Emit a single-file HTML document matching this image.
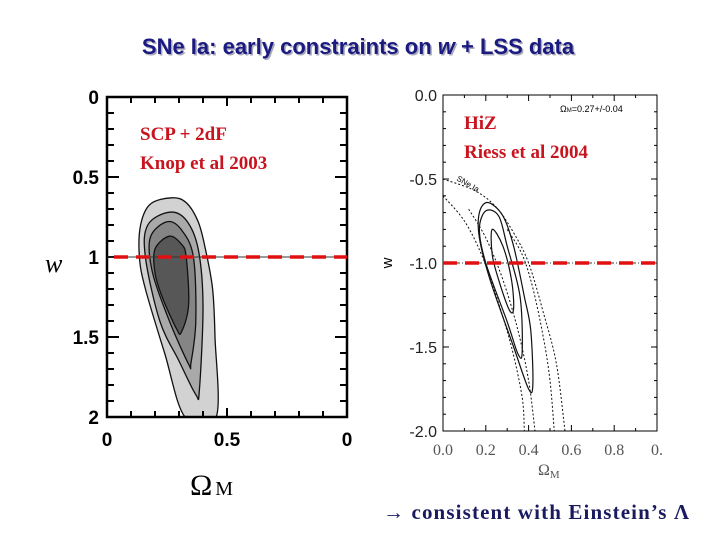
<!DOCTYPE html>
<html><head><meta charset="utf-8"><style>
html,body{margin:0;padding:0;background:#fff;width:720px;height:540px;overflow:hidden}
svg{display:block}
</style></head><body>
<svg id="s" width="720" height="540" xmlns="http://www.w3.org/2000/svg">
<text x="358" y="54" text-anchor="middle" font-family="Liberation Sans, sans-serif" font-size="22" font-weight="bold" fill="#aab" transform="translate(1.5,1.5)">SNe Ia: early constraints on <tspan font-style="italic">w</tspan> + LSS data</text>
<text x="358" y="54" text-anchor="middle" font-family="Liberation Sans, sans-serif" font-size="22" font-weight="bold" fill="#1a1a80">SNe Ia: early constraints on <tspan font-style="italic">w</tspan> + LSS data</text>
<g id="left"></g>
<g id="right"></g>
<text x="383" y="519" font-family="Liberation Serif, serif" font-size="21" font-weight="bold" fill="#1a1a60" textLength="306" lengthAdjust="spacing">→ consistent with Einstein’s Λ</text>
</svg>
<script>
// Left plot data (Omega_M, w as positive down)
const leftXTicks=[0,0.5,1];
const leftXLabels=["0","0.5","0"];
const leftYTicks=[0,0.5,1,1.5,2];
const leftYLabels=["0","0.5","1","1.5","2"];
const leftOuterOm=[0.27,0.33,0.38,0.41,0.44,0.45,0.455,0.325,0.24,0.16,0.135,0.14,0.18];
const leftOuterW=[0.63,0.66,0.78,0.95,1.2,1.5,2.0,2.0,1.6,1.2,1.0,0.8,0.67];
const left2Om=[0.26,0.33,0.38,0.40,0.385,0.37,0.30,0.22,0.16,0.17];
const left2W=[0.72,0.77,0.95,1.3,1.83,1.86,1.65,1.4,1.0,0.8];
const left3Om=[0.25,0.31,0.36,0.37,0.35,0.34,0.26,0.19,0.18];
const left3W=[0.78,0.83,1.0,1.4,1.66,1.67,1.4,1.1,0.88];
const left4Om=[0.26,0.31,0.33,0.34,0.31,0.29,0.23,0.2,0.2];
const left4W=[0.87,0.92,1.0,1.3,1.47,1.45,1.25,1.1,0.95];
const leftRefW=[1];
// Right plot data
const rightXTicks=[0,0.2,0.4,0.6,0.8,1.0];
const rightXLabels=["0.0","0.2","0.4","0.6","0.8","0."];
const rightYTicks=[0,-0.5,-1,-1.5,-2];
const rightYLabels=["0.0","-0.5","-1.0","-1.5","-2.0"];
const rS1Om=[0.21,0.28,0.33,0.38,0.41,0.42,0.40,0.33,0.22,0.17,0.17];
const rS1W=[-0.64,-0.72,-0.9,-1.2,-1.4,-1.72,-1.75,-1.5,-1.1,-0.85,-0.7];
const rS2Om=[0.2,0.26,0.3,0.36,0.37,0.35,0.3,0.2,0.17];
const rS2W=[-0.69,-0.72,-0.9,-1.2,-1.53,-1.54,-1.35,-1.0,-0.8];
const rS3Om=[0.23,0.28,0.32,0.33,0.31,0.26,0.23];
const rS3W=[-0.8,-0.9,-1.1,-1.27,-1.28,-1.1,-0.95];
const rD1Om=[0,0.15,0.25,0.33,0.4,0.47,0.53,0.57];
const rD1W=[-0.5,-0.57,-0.67,-0.82,-1.0,-1.3,-1.6,-2.0];
const rD2Om=[0,0.1,0.18,0.25,0.32,0.37,0.38];
const rD2W=[-0.6,-0.75,-0.95,-1.2,-1.5,-1.8,-2.0];
const rD3Om=[0.12,0.2,0.28,0.35,0.4,0.43];
const rD3W=[-0.68,-0.85,-1.1,-1.4,-1.7,-2.0];
const rD4Om=[0.3,0.37,0.42,0.47,0.5,0.52];
const rD4W=[-0.8,-0.95,-1.15,-1.45,-1.7,-2.0];
const rightRefW=[-1];

const NS="http://www.w3.org/2000/svg";
function mk(p,t,a){const e=document.createElementNS(NS,t);for(const k in a)e.setAttribute(k,a[k]);p.appendChild(e);return e;}
function smooth(pts,closed){
  const n=pts.length;let d="M"+pts[0][0]+","+pts[0][1];
  const g=i=>closed?pts[(i+n)%n]:pts[Math.max(0,Math.min(n-1,i))];
  const m=closed?n:n-1;
  for(let i=0;i<m;i++){const p0=g(i-1),p1=g(i),p2=g(i+1),p3=g(i+2);
    d+=" C"+(p1[0]+(p2[0]-p0[0])/6)+","+(p1[1]+(p2[1]-p0[1])/6)+" "+(p2[0]-(p3[0]-p1[0])/6)+","+(p2[1]-(p3[1]-p1[1])/6)+" "+p2[0]+","+p2[1];}
  return d+(closed?"Z":"");
}
// LEFT
const L=document.getElementById('left');
const lx=v=>107+v*240, ly=v=>97+v*160;
const lclip=mk(L,'clipPath',{id:'lc'});mk(lclip,'rect',{x:107,y:97,width:240,height:320});
const lg=mk(L,'g',{'clip-path':'url(#lc)'});
[[leftOuterOm,leftOuterW,'#d2d2d2','left-contour-outer'],[left2Om,left2W,'#a9a9a9','left-contour-2'],[left3Om,left3W,'#858585','left-contour-3'],[left4Om,left4W,'#575757','left-contour-inner']].forEach(c=>{
  const pts=c[0].map((o,i)=>[lx(o),ly(c[1][i])]);
  const e=mk(lg,'path',{d:smooth(pts,true),fill:c[2],stroke:'#111','stroke-width':1.3});
  
  
});
mk(L,'rect',{x:107,y:97,width:240,height:320,fill:'none',stroke:'#000','stroke-width':2.5});
for(let i=0;i<=10;i++){const x=lx(i/10),h=i%5==0?9:6;mk(L,'line',{x1:x,y1:417,x2:x,y2:417-h,stroke:'#000','stroke-width':2});mk(L,'line',{x1:x,y1:97,x2:x,y2:97+h,stroke:'#000','stroke-width':2});}
for(let i=0;i<=20;i++){const y=ly(i/10),h=i%5==0?12:7;mk(L,'line',{x1:107,y1:y,x2:107+h,y2:y,stroke:'#000','stroke-width':2});mk(L,'line',{x1:347,y1:y,x2:347-h,y2:y,stroke:'#000','stroke-width':2});}
leftXTicks.forEach((v,i)=>{const t=mk(L,'text',{x:lx(v),y:446,'text-anchor':'middle','font-family':'Liberation Sans, sans-serif','font-size':19,'font-weight':'bold'});t.textContent=leftXLabels[i];
  
  });
leftYTicks.forEach((v,i)=>{const t=mk(L,'text',{x:99,y:ly(v)+7,'text-anchor':'end','font-family':'Liberation Sans, sans-serif','font-size':19,'font-weight':'bold'});t.textContent=leftYLabels[i];
  
  });
leftRefW.forEach(v=>{mk(L,'line',{x1:107,y1:ly(v),x2:347,y2:ly(v),stroke:'#333','stroke-width':1});
  const e=mk(L,'line',{x1:114,y1:ly(v),x2:347,y2:ly(v),stroke:'#e01010','stroke-width':3.5,'stroke-dasharray':'14,8'});
  
  });
let t=mk(L,'text',{x:45,y:272,'font-family':'Liberation Serif, serif','font-size':26,'font-style':'italic'});t.textContent='w';


t=mk(L,'text',{x:190,y:495,'font-family':'Liberation Serif, serif','font-size':30});t.innerHTML='Ω<tspan font-size="20" dx="3">M</tspan>';


t=mk(L,'text',{x:140,y:140,'font-family':'Liberation Serif, serif','font-size':19,'font-weight':'bold',fill:'#c8141e'});t.textContent='SCP + 2dF';


t=mk(L,'text',{x:140,y:169,'font-family':'Liberation Serif, serif','font-size':19,'font-weight':'bold',fill:'#c8141e'});t.textContent='Knop et al 2003';


// RIGHT
const R=document.getElementById('right');
const rx=v=>443+v*214, ry=v=>95-v*168;
const rclip=mk(R,'clipPath',{id:'rc'});mk(rclip,'rect',{x:443,y:95,width:214,height:336});
const rg=mk(R,'g',{'clip-path':'url(#rc)'});
[[rS1Om,rS1W,'right-contour-outer'],[rS2Om,rS2W,'right-contour-mid'],[rS3Om,rS3W,'right-contour-inner']].forEach(c=>{
  const pts=c[0].map((o,i)=>[rx(o),ry(c[1][i])]);
  const e=mk(rg,'path',{d:smooth(pts,true),fill:'none',stroke:'#111','stroke-width':1.2});
  
  
});
[[rD1Om,rD1W],[rD2Om,rD2W],[rD3Om,rD3W],[rD4Om,rD4W]].forEach(c=>{
  const pts=c[0].map((o,i)=>[rx(o),ry(c[1][i])]);
  const e=mk(rg,'path',{d:smooth(pts,false),fill:'none',stroke:'#111','stroke-width':1,'stroke-dasharray':'2,2'});
  
  
});
mk(R,'rect',{x:443,y:95,width:214,height:336,fill:'none',stroke:'#000','stroke-width':1});
for(let i=0;i<=10;i++){const x=rx(i/10),h=i%2==0?6:3;mk(R,'line',{x1:x,y1:431,x2:x,y2:431-h,stroke:'#000'});mk(R,'line',{x1:x,y1:95,x2:x,y2:95+h,stroke:'#000'});}
for(let i=0;i<=20;i++){const y=ry(-i/10),h=i%5==0?6:3;mk(R,'line',{x1:443,y1:y,x2:443+h,y2:y,stroke:'#000'});mk(R,'line',{x1:657,y1:y,x2:657-h,y2:y,stroke:'#000'});}
rightXTicks.forEach((v,i)=>{const t=mk(R,'text',{x:rx(v),y:455,'text-anchor':'middle','font-family':'Liberation Serif, serif','font-size':16,fill:'#555'});t.textContent=rightXLabels[i];
  
  });
rightYTicks.forEach((v,i)=>{const t=mk(R,'text',{x:437,y:ry(v)+6,'text-anchor':'end','font-family':'Liberation Sans, sans-serif','font-size':16,fill:'#222'});t.textContent=rightYLabels[i];
  
  });
rightRefW.forEach(v=>{mk(R,'line',{x1:443,y1:ry(v),x2:657,y2:ry(v),stroke:'#333','stroke-width':1,'stroke-dasharray':'6,2,1,2'});
  const e=mk(R,'line',{x1:443,y1:ry(v),x2:660,y2:ry(v),stroke:'#e01010','stroke-width':3.5,'stroke-dasharray':'14,8'});
  
  });
t=mk(R,'text',{x:392,y:263,'font-family':'Liberation Sans, sans-serif','font-size':15,transform:'rotate(-90 392 263)','text-anchor':'middle'});t.textContent='w';


t=mk(R,'text',{x:538,y:475,'font-family':'Liberation Serif, serif','font-size':16,fill:'#555'});t.innerHTML='Ω<tspan font-size="11" dy="3">M</tspan>';


t=mk(R,'text',{x:560,y:112,'font-family':'Liberation Sans, sans-serif','font-size':9});t.innerHTML='Ω<tspan font-size="6">M</tspan>=0.27+/-0.04';


t=mk(R,'text',{x:464,y:129,'font-family':'Liberation Serif, serif','font-size':19,'font-weight':'bold',fill:'#c8141e'});t.textContent='HiZ';


t=mk(R,'text',{x:464,y:158,'font-family':'Liberation Serif, serif','font-size':19,'font-weight':'bold',fill:'#c8141e'});t.textContent='Riess et al 2004';


t=mk(R,'text',{x:456,y:180,'font-family':'Liberation Sans, sans-serif','font-size':8,transform:'rotate(30 456 180)'});t.textContent='SNe Ia';


</script>
</body></html>
